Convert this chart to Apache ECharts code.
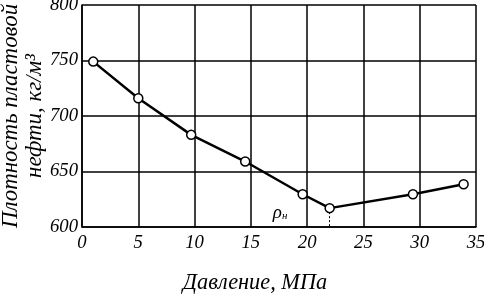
<!DOCTYPE html>
<html><head><meta charset="utf-8">
<script src="https://cdn.jsdelivr.net/npm/echarts@6/dist/echarts.min.js"></script>
<style>html,body{margin:0;padding:0;background:#fff}#c{width:484px;height:296px}</style>
</head><body><div id="c"></div>
<script>
const pressure = [1, 5, 9.7, 14.5, 19.6, 22, 29.4, 33.9];
const density = [749, 716, 683, 659, 629.5, 617, 629.5, 638.5];
const xTicks = [0, 5, 10, 15, 20, 25, 30, 35];
const yTicks = [600, 650, 700, 750, 800];
const xName = 'Давление, МПа';
const yNameLines = ['Плотность пластовой', 'нефти, кг/м³'];
const saturationPoint = [22, 617];
const rhoLabelPos = [17.6, 613];

const font = 'Liberation Serif';
// pick font sizes so text lengths match the reference
const ctx = document.createElement('canvas').getContext('2d');
function fit(text, target) {
  ctx.font = 'italic 100px "' + font + '"';
  return Math.round(100 * target / ctx.measureText(text).width * 10) / 10;
}
const tickSize = Math.min(19, fit('800', 28));
const xNameSize = fit(xName, 144);
const yNameSize = fit(yNameLines[0], 224);

const chart = echarts.init(document.getElementById('c'), null, {renderer: 'canvas'});
chart.setOption({
  animation: false,
  grid: {left: 82, right: 8, top: 5, bottom: 69, containLabel: false, outerBoundsMode: 'none'},
  xAxis: {
    type: 'value', min: xTicks[0], max: xTicks[xTicks.length - 1], interval: 5,
    axisLine: {lineStyle: {color: '#000', width: 1.5}},
    axisTick: {show: false},
    splitLine: {lineStyle: {color: '#000', width: 1.5}},
    axisLabel: {color: '#000', fontFamily: font, fontStyle: 'italic', fontSize: tickSize, margin: 7},
    name: xName, nameLocation: 'middle', nameGap: 45, nameMoveOverlap: false,
    nameTextStyle: {color: '#000', fontFamily: font, fontStyle: 'italic', fontSize: xNameSize, padding: [0, 48, 0, 0]}
  },
  yAxis: {
    type: 'value', min: yTicks[0], max: yTicks[yTicks.length - 1], interval: 50,
    axisLine: {show: true, lineStyle: {color: '#000', width: 1.5}},
    axisTick: {show: false},
    splitLine: {lineStyle: {color: '#000', width: 1.5}},
    axisLabel: {color: '#000', fontFamily: font, fontStyle: 'italic', fontSize: tickSize, margin: 4},
    name: yNameLines.join('\n'), nameLocation: 'middle', nameGap: 35, nameRotate: 90, nameMoveOverlap: false,
    nameTextStyle: {color: '#000', fontFamily: font, fontStyle: 'italic', fontSize: yNameSize, lineHeight: 24}
  },
  series: [{
    type: 'line',
    data: pressure.map((p, i) => [p, density[i]]),
    lineStyle: {color: '#000', width: 2.5},
    symbol: 'circle', symbolSize: 9,
    itemStyle: {color: '#fff', borderColor: '#000', borderWidth: 1.5},
    z: 5,
    markLine: {
      silent: true, symbol: 'none',
      lineStyle: {color: '#000', type: [2, 2], width: 1},
      label: {show: false},
      data: [[{coord: saturationPoint}, {coord: [saturationPoint[0], yTicks[0]]}]]
    },
    markPoint: {
      symbol: 'circle', symbolSize: 0,
      data: [{coord: rhoLabelPos}],
      label: {
        show: true, position: 'inside',
        formatter: '{a|ρ}{b|н}',
        rich: {
          a: {fontFamily: font, fontStyle: 'italic', fontSize: 19, color: '#000'},
          b: {fontFamily: font, fontStyle: 'italic', fontSize: 11, color: '#000', verticalAlign: 'bottom', padding: [8, 0, 0, 0]}
        }
      }
    }
  }]
});
</script></body></html>
